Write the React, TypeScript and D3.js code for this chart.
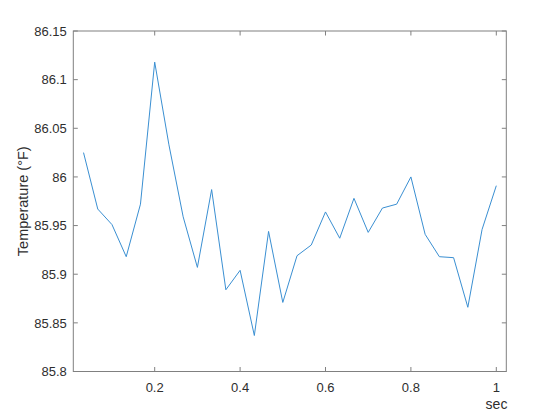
import React from "react";
import * as d3 from "d3";

const timeSec: number[] = Array.from({ length: 30 }, (_, i) => (i + 1) / 30);
const temperatureF: number[] = [
  86.025, 85.967, 85.951, 85.918, 85.972, 86.118, 86.033, 85.959, 85.907, 85.987,
  85.884, 85.904, 85.837, 85.944, 85.871, 85.919, 85.930, 85.964, 85.937, 85.978,
  85.943, 85.968, 85.972, 86.000, 85.941, 85.918, 85.917, 85.866, 85.946, 85.991,
];
const xTicks: number[] = [0.2, 0.4, 0.6, 0.8, 1];
const xTickLabels: string[] = ["0.2", "0.4", "0.6", "0.8", "1"];
const yTicks: number[] = [85.8, 85.85, 85.9, 85.95, 86, 86.05, 86.1, 86.15];
const yTickLabels: string[] = ["85.8", "85.85", "85.9", "85.95", "86", "86.05", "86.1", "86.15"];

const W = 560;
const H = 419;
const L = 73.3;
const R = 506.3;
const T = 31;
const B = 371.5;
const FONT = "'Liberation Sans', Arial, Helvetica, sans-serif";
const AX = "#808080";
const TXT = "#2e2e2e";

export default function App() {
  const x = d3.scaleLinear().domain([0.0094, 1.0234]).range([L, R]);
  const y = d3.scaleLinear().domain([85.8, 86.15]).range([B, T]);
  const line = d3
    .line<number>()
    .x((_, i) => x(timeSec[i]))
    .y((d) => y(d));
  const tl = 4.5;
  return (
    <svg
      width={W}
      height={H}
      style={{ position: "absolute", left: 0, top: 0, background: "#fff" }}
      fontFamily={FONT}
    >
      <rect x={0} y={0} width={W} height={H} fill="#fff" />
      <path d={line(temperatureF) || ""} fill="none" stroke="#3a8fd2" strokeWidth={1} />
      <rect x={L} y={T} width={R - L} height={B - T} fill="none" stroke={AX} strokeWidth={1} />
      {xTicks.map((t, i) => (
        <g key={"xt" + i}>
          <line x1={x(t)} x2={x(t)} y1={B} y2={B - tl} stroke={AX} />
          <line x1={x(t)} x2={x(t)} y1={T} y2={T + tl} stroke={AX} />
          <text x={x(t)} y={391.5} textAnchor="middle" fontSize={13} fill={TXT}>
            {xTickLabels[i]}
          </text>
        </g>
      ))}
      {yTicks.map((t, i) => (
        <g key={"yt" + i}>
          <line x1={L} x2={L + tl} y1={y(t)} y2={y(t)} stroke={AX} />
          <line x1={R} x2={R - tl} y1={y(t)} y2={y(t)} stroke={AX} />
          <text x={L - 6.5} y={y(t) + 4.7} textAnchor="end" fontSize={13} fill={TXT}>
            {yTickLabels[i]}
          </text>
        </g>
      ))}
      <text x={496.5} y={408.5} textAnchor="middle" fontSize={14} fill={TXT}>
        sec
      </text>
      <text
        transform={`translate(27.5, ${(T + B) / 2}) rotate(-90)`}
        textAnchor="middle"
        fontSize={14.5}
        fill={TXT}
      >
        Temperature (°F)
      </text>
    </svg>
  );
}
